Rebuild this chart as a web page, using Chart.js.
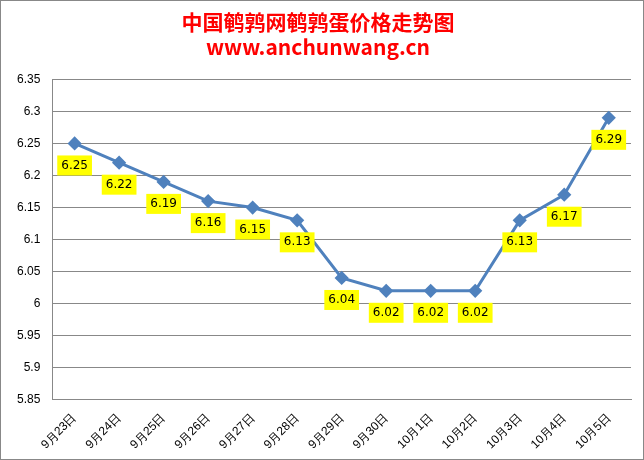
<!DOCTYPE html>
<html>
<head>
<meta charset="utf-8">
<script src="https://cdn.jsdelivr.net/npm/chart.js@4"></script>
<style>
  body { margin: 0; background: #fff; }
  #wrap { position: relative; width: 642px; height: 458px; border: 1px solid #888; }
</style>
</head>
<body>
<div id="wrap"><canvas id="c" width="642" height="458"></canvas></div>
<script>
// 日期和价格
const labels = ['9月23日', '9月24日', '9月25日', '9月26日', '9月27日', '9月28日', '9月29日', '9月30日', '10月1日', '10月2日', '10月3日', '10月4日', '10月5日'];
const prices = [6.25, 6.22, 6.19, 6.16, 6.15, 6.13, 6.04, 6.02, 6.02, 6.02, 6.13, 6.17, 6.29];
const yMin = 5.85, yMax = 6.35, yStep = 0.05;

// 黄色数值标签
const boxLabels = {
  id: 'boxLabels',
  afterDatasetsDraw(chart) {
    const ctx = chart.ctx;
    const meta = chart.getDatasetMeta(0);
    ctx.save();
    ctx.font = '12px "DejaVu Sans", sans-serif';
    ctx.textAlign = 'center';
    ctx.textBaseline = 'middle';
    meta.data.forEach((pt, i) => {
      const t = prices[i].toFixed(2);
      const w = ctx.measureText(t).width + 8;
      const y = pt.y + 22;
      ctx.fillStyle = '#ffff00';
      ctx.fillRect(pt.x - w / 2, y - 10, w, 20);
      ctx.fillStyle = '#000';
      ctx.fillText(t, pt.x, y);
    });
    ctx.restore();
  }
};

new Chart(document.getElementById('c'), {
  type: 'line',
  data: {
    labels: labels,
    datasets: [{
      data: prices,
      borderColor: '#4f81bd',
      backgroundColor: '#4f81bd',
      borderWidth: 3,
      pointStyle: 'rectRot',
      pointRadius: 5,
      tension: 0
    }]
  },
  options: {
    responsive: false,
    animation: false,
    layout: { padding: { left: 4, right: 12, top: 4, bottom: 4 } },
    plugins: {
      legend: { display: false },
      tooltip: { enabled: false },
      title: {
        display: true,
        text: ['中国鹌鹑网鹌鹑蛋价格走势图', 'www.anchunwang.cn'],
        color: '#ff0000',
        font: { size: 21, weight: 'bold', family: '"Noto Sans CJK SC", sans-serif' },
        padding: { top: 4, bottom: 20 }
      }
    },
    scales: {
      x: {
        offset: true,
        grid: { display: false },
        border: { color: '#888' },
        ticks: { color: '#000', font: { size: 12 }, maxRotation: 45, minRotation: 45 }
      },
      y: {
        min: yMin, max: yMax,
        grid: { color: '#888', drawTicks: false },
        border: { color: '#888' },
        ticks: {
          stepSize: yStep, color: '#000', padding: 12, font: { size: 12 },
          callback: v => parseFloat(v.toFixed(2)).toString()
        }
      }
    }
  },
  plugins: [boxLabels]
});
</script>
</body>
</html>
